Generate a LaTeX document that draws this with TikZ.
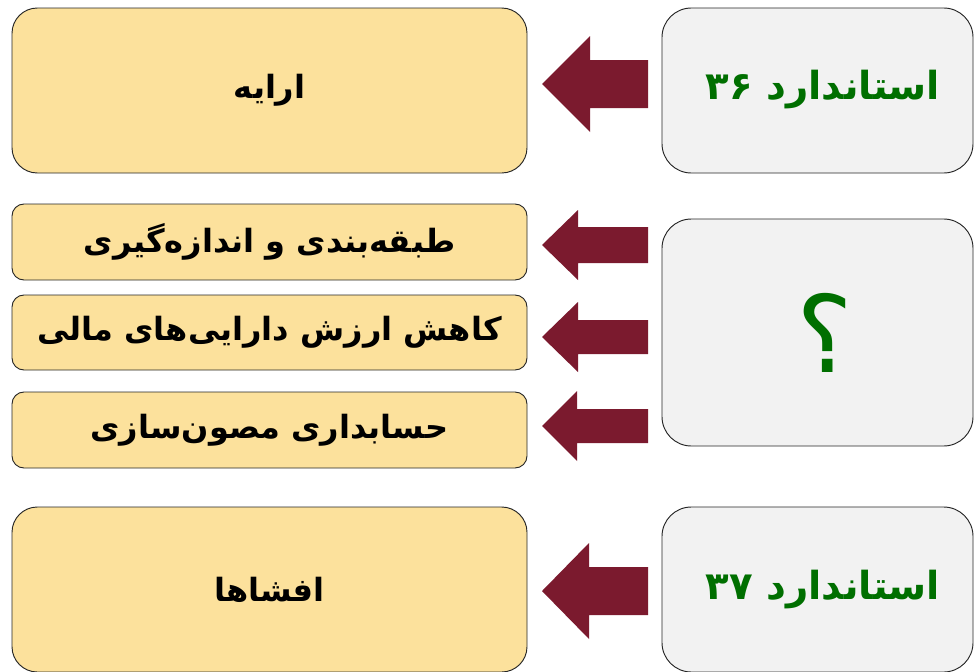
\documentclass[tikz,border=0pt]{standalone}
\usepackage{fontspec}
\TeXXeTstate=1
\newfontfamily\arabicfont[Script=Arabic]{DejaVu Sans}
\definecolor{boxyellow}{HTML}{FCE19C}
\definecolor{boxgray}{HTML}{F2F2F2}
\definecolor{arrowc}{HTML}{7B1A2E}
\definecolor{textgreen}{HTML}{006F00}
\newcommand\fa[1]{\arabicfont\bfseries\beginR #1\endR}
\newcommand\blockarrow[6]{%
  \fill[arrowc] (#1,#2) -- (#3,#2-#4) -- (#3,#2-#5) -- (#6,#2-#5) -- (#6,#2+#5)
    -- (#3,#2+#5) -- (#3,#2+#4) -- cycle;}
\begin{document}
\begin{tikzpicture}[x=0.75pt,y=-0.75pt,
  base/.style={draw=black!85, line width=0.7pt, inner sep=0pt, align=center},
  bigbox/.style={base, fill=boxyellow, rounded corners=19pt,
    minimum width=386.25pt, minimum height=123.75pt,
    font=\fontsize{24}{28}\selectfont},
  smallbox/.style={base, fill=boxyellow, rounded corners=9pt,
    minimum width=386.25pt, font=\fontsize{24}{28}\selectfont},
  graybox/.style={base, fill=boxgray, rounded corners=22pt,
    minimum width=233.25pt, text=textgreen}]
\useasboundingbox (0,0) rectangle (974,671);
\clip (0,0) rectangle (974,671);
% left column
\node[bigbox] (present) at (269.5,90.5) {\fa{ارایه}};
\node[smallbox, minimum height=57pt] (classify) at (269.5,242) {\fa{طبقه^^^^200cبندی و اندازه^^^^200cگیری}};
\node[smallbox, minimum height=56.25pt] (impair) at (269.5,332.5) {\fa{کاهش ارزش دارایی^^^^200cهای مالی}};
\node[smallbox, minimum height=57pt] (hedge) at (269.5,430) {\fa{حسابداری مصون^^^^200cسازی}};
\node[bigbox] (disclose) at (269.5,589.5) {\fa{افشاها}};
% right column
\node[graybox, minimum height=123.75pt] (s36) at (817.5,90.5) {};
\node[text=textgreen, font=\fontsize{29}{33}\selectfont] (s36t) at (823,90) {\fa{استاندارد \beginL ۳۶\endL}};
\node[graybox, minimum height=170.25pt] (q) at (817.5,332.5) {};
\node[text=textgreen, font=\fontsize{80}{84}\selectfont] (qt) at (825,332.5) {\arabicfont ؟};
\node[graybox, minimum height=123.75pt] (s37) at (817.5,589.5) {};
\node[text=textgreen, font=\fontsize{29}{33}\selectfont] (s37t) at (823,590) {\fa{استاندارد \beginL ۳۷\endL}};
% block arrows
\blockarrow{542}{84}{590}{48}{24}{648}
\blockarrow{542}{245}{578}{35}{18}{648}
\blockarrow{542}{337}{578}{35}{17}{648}
\blockarrow{542}{426}{577}{35}{17}{648}
\blockarrow{542}{591}{589}{48}{24}{648}
\end{tikzpicture}
\end{document}
